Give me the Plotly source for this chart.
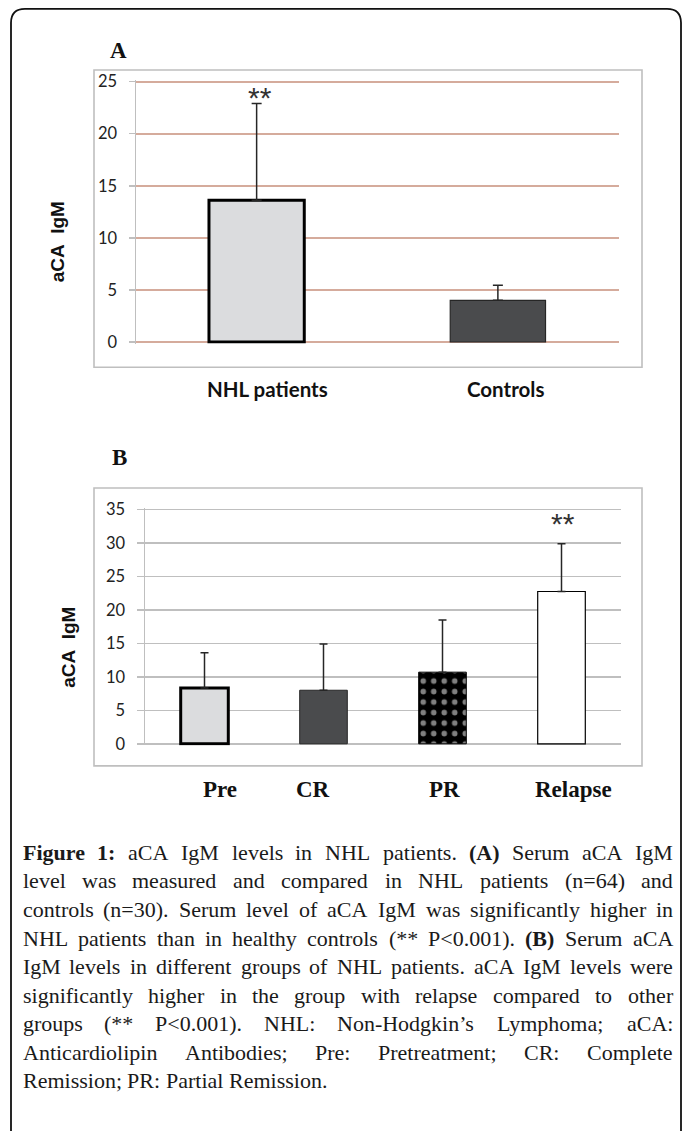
import plotly.graph_objects as go

W, H = 683, 1131

# ---------------- data ----------------
a_groups = ["NHL patients", "Controls"]
a_means = [13.6, 4.0]
a_errors = [9.3, 1.45]
a_yticks = [0, 5, 10, 15, 20, 25]

b_groups = ["Pre", "CR", "PR", "Relapse"]
b_means = [8.35, 8.0, 10.7, 22.75]
b_errors = [5.25, 6.9, 7.8, 7.15]
b_yticks = [0, 5, 10, 15, 20, 25, 30, 35]

y_title = "aCA\u00a0 IgM"
sig_mark = "**"

caption_lines = [
    "Figure 1: aCA IgM levels in NHL patients. (A) Serum aCA IgM",
    "level was measured and compared in NHL patients (n=64) and",
    "controls (n=30). Serum level of aCA IgM was significantly higher in",
    "NHL patients than in healthy controls (** P<0.001). (B) Serum aCA",
    "IgM levels in different groups of NHL patients. aCA IgM levels were",
    "significantly higher in the group with relapse compared to other",
    "groups (** P<0.001). NHL: Non-Hodgkin\u2019s Lymphoma; aCA:",
    "Anticardiolipin Antibodies; Pre: Pretreatment; CR: Complete",
    "Remission; PR: Partial Remission.",
]
bold_words = {"Figure", "1:", "(A)", "(B)"}

# ---------------- helpers ----------------
# vertical correction for the way the page is photographed
SY, OY = 0.9837, 9.15


def px(x):
    return x / W


def py(y):
    return 1 - ((y - OY) / SY) / H


def dy(d):
    return d / SY


# Times / Liberation Serif advance widths (1/1000 em)
REG = {' ': 250, '(': 333, ')': 333, '*': 500, ',': 250, '-': 333, '.': 250,
       ':': 278, ';': 278, '<': 564, '=': 564, '\u2019': 333, "'": 333,
       'A': 722, 'B': 667, 'C': 667, 'D': 722, 'E': 611, 'F': 556, 'G': 722,
       'H': 722, 'I': 333, 'J': 389, 'K': 722, 'L': 611, 'M': 889, 'N': 722,
       'O': 722, 'P': 556, 'Q': 722, 'R': 667, 'S': 556, 'T': 611, 'U': 722,
       'V': 722, 'W': 944, 'X': 722, 'Y': 722, 'Z': 611,
       'a': 444, 'b': 500, 'c': 444, 'd': 500, 'e': 444, 'f': 333, 'g': 500,
       'h': 500, 'i': 278, 'j': 278, 'k': 500, 'l': 278, 'm': 778, 'n': 500,
       'o': 500, 'p': 500, 'q': 500, 'r': 333, 's': 389, 't': 278, 'u': 500,
       'v': 500, 'w': 722, 'x': 500, 'y': 500, 'z': 444}
BOLD = {'(': 333, ')': 333, ':': 333, '1': 500, 'A': 722, 'B': 667, 'F': 611,
        'i': 278, 'g': 500, 'u': 556, 'r': 444, 'e': 444}


def text_width(word, bold, size):
    table = BOLD if bold else REG
    return sum(table.get(ch, 500) for ch in word) * size / 1000.0


# ---------------- figure ----------------
fig = go.Figure()

# Panel A bars
fig.add_trace(go.Bar(
    x=a_groups, y=a_means, width=0.395,
    marker=dict(color=["#DBDCDE", "#4A4B4D"],
                line=dict(color=["#000000", "#262626"], width=[3, 1.2])),
    error_y=dict(type="data", symmetric=False, array=a_errors,
                 arrayminus=[0] * len(a_errors), color="#262626",
                 thickness=1.5, width=5),
    xaxis="x", yaxis="y", hoverinfo="skip",
))

# Panel B bars
fig.add_trace(go.Bar(
    x=b_groups, y=b_means, width=0.40,
    marker=dict(color=["#DBDCDE", "#4A4B4D", "#000000", "#FFFFFF"],
                line=dict(color=["#000000", "#262626", "#000000", "#000000"],
                          width=[3, 1, 1, 1.2]),
                pattern=dict(shape=["", "", ".", ""], fgcolor="white",
                             size=10.5, solidity=0.22)),
    error_y=dict(type="data", symmetric=False, array=b_errors,
                 arrayminus=[0] * len(b_errors), color="#262626",
                 thickness=1.5, width=4),
    xaxis="x2", yaxis="y2", hoverinfo="skip",
))

tick_font = dict(family="Lato", size=16.5, color="#222222")

# axis pixel layout: value 0 and top value positions, small pad so the
# end grid lines are kept
a_pad, b_pad = 0.15, 0.25
a_ppu = (341.7 - 81.7) / 25.0
b_ppu = (743 - 509) / 35.0

fig.update_layout(
    width=W, height=H,
    margin=dict(l=0, r=0, t=0, b=0),
    paper_bgcolor="white", plot_bgcolor="rgba(0,0,0,0)",
    showlegend=False, barmode="overlay",
    xaxis=dict(domain=[px(136), px(618.5)], anchor="y", type="category",
               range=[-0.5, 1.5], showgrid=False, showline=False, ticks="",
               showticklabels=False, zeroline=False),
    yaxis=dict(domain=[py(341.7 + a_pad * a_ppu), py(81.7 - a_pad * a_ppu)],
               anchor="x", range=[-a_pad, 25 + a_pad],
               tickvals=a_yticks, showgrid=True, gridcolor="#D5AB9C",
               gridwidth=1.8, showline=True, linecolor="#BFBFBF",
               linewidth=1.5, ticks="outside", ticklen=6, tickwidth=1.5,
               tickcolor="#BFBFBF", tickfont=tick_font, ticklabelstandoff=8,
               zeroline=False),
    xaxis2=dict(domain=[px(145), px(621)], anchor="y2", type="category",
                range=[-0.5, 3.5], showgrid=False, showline=False, ticks="",
                showticklabels=False, zeroline=False),
    yaxis2=dict(domain=[py(743 + b_pad * b_ppu), py(509 - b_pad * b_ppu)],
                anchor="x2", range=[-b_pad, 35 + b_pad],
                tickvals=b_yticks, showgrid=True, gridcolor="#BFBFBF",
                gridwidth=1.6, showline=True, linecolor="#BFBFBF",
                linewidth=1.5, ticks="outside", ticklen=7, tickwidth=1.5,
                tickcolor="#BFBFBF", tickfont=tick_font, ticklabelstandoff=8,
                zeroline=False),
)

# ---------------- shapes ----------------
shapes = []
# chart frames
for (x0, y0, x1, y1) in [(94, 70, 642, 367), (94, 487.5, 642, 765)]:
    shapes.append(dict(type="rect", xref="paper", yref="paper",
                       x0=px(x0), x1=px(x1), y0=py(y1), y1=py(y0),
                       line=dict(color="#BFBFBF", width=1.6), layer="below"))

# outer rounded frame (open at the bottom, beyond the page)
l, t, r, b, rad = 11, 9, 681, 1160, 14
path = (f"M {px(l)},{py(b)} L {px(l)},{py(t + rad)} "
        f"Q {px(l)},{py(t)} {px(l + rad)},{py(t)} "
        f"L {px(r - rad)},{py(t)} Q {px(r)},{py(t)} {px(r)},{py(t + rad)} "
        f"L {px(r)},{py(b)}")
shapes.append(dict(type="path", xref="paper", yref="paper", path=path,
                   line=dict(color="#111111", width=1.8)))
fig.update_layout(shapes=shapes)

# ---------------- annotations ----------------
ann = []
# panel letters
for letter, (x, y) in [("A", (118.8, 50.8)), ("B", (119, 457.5))]:
    ann.append(dict(text=f"<b>{letter}</b>", xref="paper", yref="paper",
                    x=px(x), y=py(y), xanchor="center", yanchor="middle",
                    showarrow=False, borderpad=0,
                    font=dict(family="Liberation Serif", size=23, color="#111111")))
# y titles
for (x, y) in [(57.5, 241.7), (68.5, 646.7)]:
    ann.append(dict(text=f"<b>{y_title}</b>", xref="paper", yref="paper",
                    x=px(x), y=py(y), xanchor="center", yanchor="middle",
                    textangle=-90, showarrow=False, borderpad=0,
                    font=dict(family="Liberation Sans", size=19, color="#111111")))
# x category labels
a_shift = [11, 8]
for g, s in zip(a_groups, a_shift):
    ann.append(dict(text=f"<b>{g}</b>", xref="x", yref="paper", x=g, xshift=s,
                    y=py(389), xanchor="center", yanchor="middle",
                    showarrow=False, borderpad=0,
                    font=dict(family="Lato", size=20.5, color="#111111")))
b_shift = [15, -11, 1.5, 12]
for g, s in zip(b_groups, b_shift):
    ann.append(dict(text=f"<b>{g}</b>", xref="x2", yref="paper", x=g, xshift=s,
                    y=py(788.5), xanchor="center", yanchor="middle",
                    showarrow=False, borderpad=0,
                    font=dict(family="Liberation Serif", size=23, color="#111111")))
# significance marks
ann.append(dict(text=sig_mark, xref="x", yref="y", x=a_groups[0],
                y=a_means[0] + a_errors[0], xanchor="center", yanchor="middle",
                xshift=3, yshift=dy(5.5), showarrow=False, borderpad=0,
                font=dict(family="Liberation Sans", size=30, color="#333333")))
ann.append(dict(text=sig_mark, xref="x2", yref="y2", x=b_groups[3],
                y=b_means[3] + b_errors[3], xanchor="center", yanchor="middle",
                xshift=1.5, yshift=dy(20), showarrow=False, borderpad=0,
                font=dict(family="Liberation Sans", size=30, color="#333333")))

# caption, justified word by word
cap_size = 22
cap_left, cap_right = 22.6, 673
cap_y0, cap_dy = 851.5, 28.5
for i, line in enumerate(caption_lines):
    words = line.split(" ")
    widths = [text_width(w, w in bold_words, cap_size) for w in words]
    last = i == len(caption_lines) - 1
    if last or len(words) < 2:
        gap = cap_size * 0.25
    else:
        gap = (cap_right - cap_left - sum(widths)) / (len(words) - 1)
    x = cap_left
    yy = cap_y0 + i * cap_dy
    for w, wd in zip(words, widths):
        txt = f"<b>{w}</b>" if w in bold_words else w
        ann.append(dict(text=txt, xref="paper", yref="paper", x=px(x), y=py(yy),
                        xanchor="left", yanchor="middle", showarrow=False,
                        borderpad=0, borderwidth=0,
                        font=dict(family="Liberation Serif", size=cap_size,
                                  color="#1a1a1a")))
        x += wd + gap

fig.update_layout(annotations=ann)

fig.write_html(
    "out.html",
    config={"displayModeBar": False, "staticPlot": True},
    post_script=(
        "document.documentElement.style.margin='0';"
        "document.documentElement.style.padding='0';"
        "document.documentElement.style.overflow='hidden';"
        "document.body.style.margin='0';"
        "document.body.style.padding='0';"
        "document.body.style.overflow='hidden';"
        "var gd=document.getElementById('{plot_id}');"
        "gd.style.position='absolute';gd.style.top='0px';gd.style.left='0px';"
    ),
)
